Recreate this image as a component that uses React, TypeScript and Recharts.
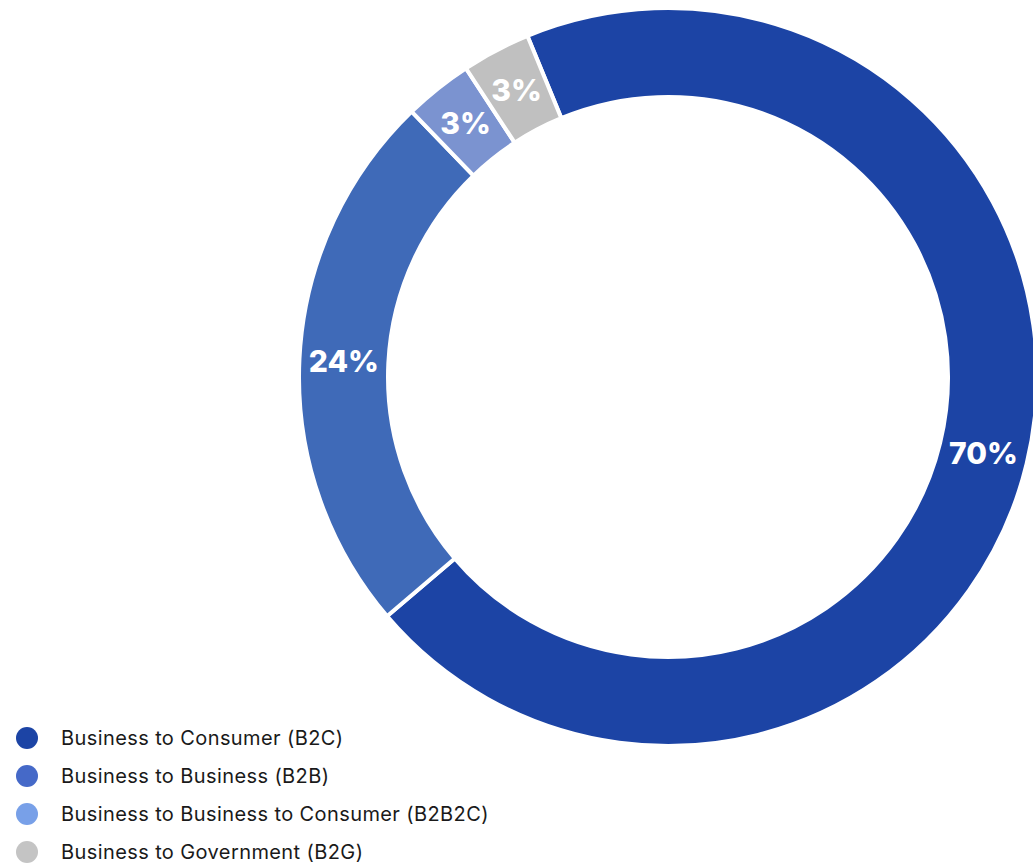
import { Cell, Pie, PieChart } from 'recharts';

const segments = [
  'Business to Consumer (B2C)',
  'Business to Business (B2B)',
  'Business to Business to Consumer (B2B2C)',
  'Business to Government (B2G)',
];
const shares = [70, 24, 3, 3];
const sliceColors = ['#1c44a5', '#3f6ab8', '#7b93d0', '#c0c0c0'];
const legendColors = ['#1c44a5', '#4569c8', '#78a0e8', '#c4c4c4'];

const data = segments.map((name, i) => ({ name, value: shares[i] }));

const RADIAN = Math.PI / 180;

function renderLabel(props: any) {
  const { cx, cy, midAngle, innerRadius, outerRadius, value } = props;
  const r = (innerRadius + outerRadius) / 2;
  const x = cx + r * Math.cos(-midAngle * RADIAN);
  const y = cy + r * Math.sin(-midAngle * RADIAN);
  return (
    <text
      x={x}
      y={y}
      fill="#fff"
      textAnchor="middle"
      dominantBaseline="central"
      fontSize={30}
      fontWeight={800}
      fontFamily="Inter, sans-serif"
    >
      {`${value}%`}
    </text>
  );
}

export default function App() {
  return (
    <div style={{ position: 'absolute', left: 0, top: 0, width: 1033, height: 865, overflow: 'hidden', background: '#fff' }}>
      <PieChart width={1033} height={865} margin={{ top: 0, right: 0, bottom: 0, left: 0 }}>
        <Pie
          data={data}
          dataKey="value"
          nameKey="name"
          cx={668}
          cy={377}
          innerRadius={280}
          outerRadius={369}
          startAngle={112.4}
          endAngle={-247.6}
          stroke="#fff"
          strokeWidth={4}
          labelLine={false}
          label={renderLabel}
          isAnimationActive={false}
        >
          {data.map((d, i) => (
            <Cell key={d.name} fill={sliceColors[i]} />
          ))}
        </Pie>
      </PieChart>
      <ul
        style={{
          position: 'absolute',
          left: 0,
          top: 719,
          listStyle: 'none',
          margin: 0,
          padding: 0,
          fontFamily: 'Inter, sans-serif',
        }}
      >
        {segments.map((s, i) => (
          <li key={s} style={{ display: 'flex', alignItems: 'center', height: 38 }}>
            <span
              style={{
                width: 22,
                height: 22,
                borderRadius: '50%',
                background: legendColors[i],
                marginLeft: 16,
                marginRight: 23,
              }}
            />
            <span style={{ fontSize: 20, letterSpacing: 0.4, color: '#1a1a1a' }}>{s}</span>
          </li>
        ))}
      </ul>
    </div>
  );
}
